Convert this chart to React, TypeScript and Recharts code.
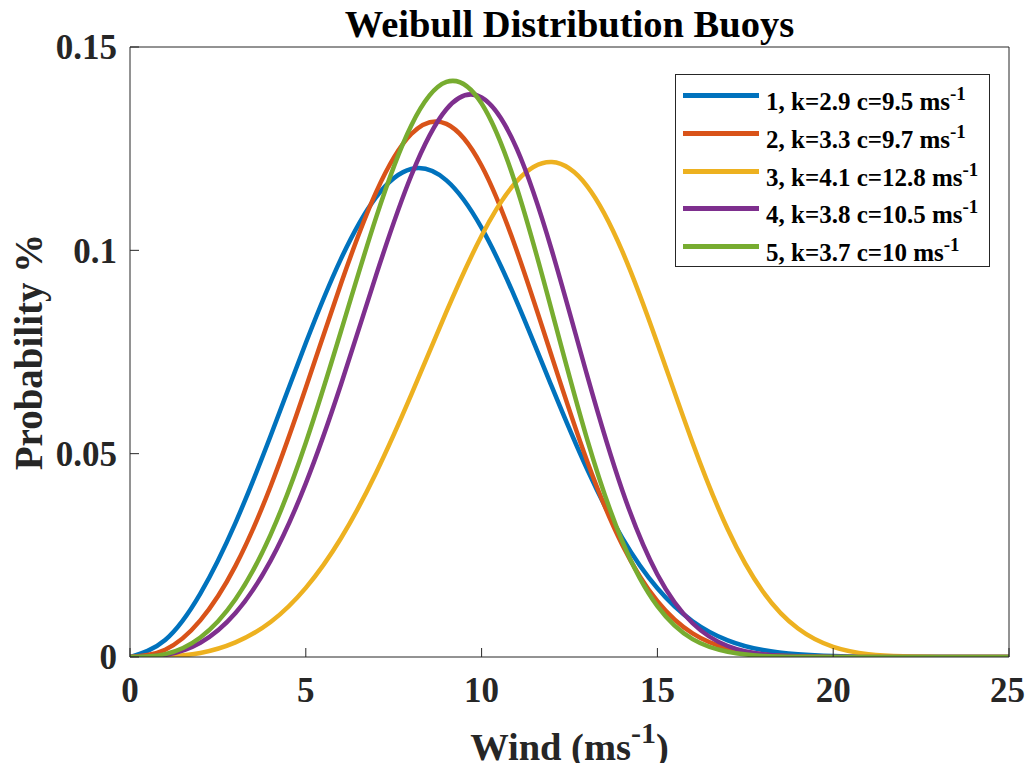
import { Label, Legend, Line, LineChart, XAxis, YAxis } from "recharts";

// wind speed samples (m/s) and the probability
const windSpeed = [0, 1, 2, 3, 4, 5, 6, 7, 8, 9, 10, 11, 12, 13, 14, 15, 16, 17, 18, 19, 20, 21, 22, 23, 24, 25];

const buoy1 = [0, 0.0042, 0.0156, 0.033, 0.0544, 0.0772, 0.0979, 0.1131, 0.12, 0.1172, 0.1055, 0.0874, 0.0664, 0.0462, 0.0293, 0.0169, 0.0088, 0.0041, 0.0017, 0.00065, 0.00022, 0.00006, 0.00002, 0, 0, 0];
const buoy2 = [0, 0.0018, 0.009, 0.0224, 0.042, 0.0662, 0.0918, 0.1143, 0.1286, 0.1311, 0.1208, 0.0999, 0.0738, 0.0482, 0.0276, 0.0137, 0.0058, 0.0021, 0.00064, 0.00016, 0.00003, 0, 0, 0, 0, 0];
const buoy3 = [0, 0.0001, 0.001, 0.0036, 0.0086, 0.017, 0.0292, 0.0453, 0.0645, 0.0849, 0.1036, 0.117, 0.1217, 0.1158, 0.0998, 0.0771, 0.0527, 0.0314, 0.0161, 0.007, 0.0025, 0.0007, 0.00017, 0.00003, 0, 0];
const buoy4 = [0, 0.0005, 0.0035, 0.0108, 0.0237, 0.0427, 0.067, 0.0939, 0.1184, 0.1347, 0.1376, 0.125, 0.0999, 0.0693, 0.041, 0.0203, 0.0083, 0.0027, 0.0007, 0.00014, 0.00002, 0, 0, 0, 0, 0];
const buoy5 = [0, 0.0007, 0.0048, 0.0142, 0.0301, 0.0527, 0.0801, 0.1081, 0.1307, 0.1414, 0.1361, 0.1154, 0.085, 0.0536, 0.0285, 0.0125, 0.0044, 0.0013, 0.00027, 0.00005, 0, 0, 0, 0, 0, 0];

const seriesLabels = [
  "1, k=2.9 c=9.5 ms",
  "2, k=3.3 c=9.7 ms",
  "3, k=4.1 c=12.8 ms",
  "4, k=3.8 c=10.5 ms",
  "5, k=3.7 c=10 ms",
];
const seriesColors = ["#0072BD", "#D95319", "#EDB120", "#7E2F8E", "#77AC30"];

const xTicks = [0, 5, 10, 15, 20, 25];
const yTicks = [0, 0.05, 0.1, 0.15];

const allSeries = [buoy1, buoy2, buoy3, buoy4, buoy5];

const chartData = windSpeed.map((w, i) => {
  const row: Record<string, number> = { wind: w };
  allSeries.forEach((s, j) => {
    row[`b${j + 1}`] = s[i];
  });
  return row;
});

const FONT = '"Liberation Serif", "Times New Roman", serif';
const AXIS = "#262626";

const tickStyle = { fill: AXIS, fontSize: 35, fontFamily: FONT, fontWeight: "bold" };

const PlotTitle = (props: any) => {
  const { viewBox } = props;
  return (
    <text
      x={viewBox.x + viewBox.width / 2}
      y={viewBox.y + viewBox.height - 10}
      textAnchor="middle"
      fontFamily={FONT}
      fontWeight="bold"
      fontSize={38.5}
      fill="#000"
    >
      Weibull Distribution Buoys
    </text>
  );
};

const XTitle = (props: any) => {
  const { viewBox } = props;
  return (
    <text
      x={viewBox.x + viewBox.width / 2}
      y={viewBox.y + 103}
      textAnchor="middle"
      fontFamily={FONT}
      fontWeight="bold"
      fontSize={38.5}
      fill={AXIS}
    >
      Wind (ms
      <tspan dy={-17} fontSize={30}>
        -1
      </tspan>
      <tspan dy={17}>)</tspan>
    </text>
  );
};

const YTitle = (props: any) => {
  const { viewBox } = props;
  const x = viewBox.x + 34;
  const y = viewBox.y + viewBox.height / 2;
  return (
    <text
      x={x}
      y={y}
      transform={`rotate(-90, ${x}, ${y})`}
      textAnchor="middle"
      fontFamily={FONT}
      fontWeight="bold"
      fontSize={39}
      fill={AXIS}
    >
      Probability %
    </text>
  );
};

const LegendBox = ({ payload }: any) => (
  <div
    style={{
      boxSizing: "border-box",
      width: 315,
      height: 193,
      border: "1px solid #262626",
      background: "#fff",
      paddingTop: 2,
      fontFamily: FONT,
      fontWeight: "bold",
      fontSize: 25,
      lineHeight: 1,
      color: "#000",
    }}
  >
    {(payload ?? []).map((entry: any) => (
      <div key={entry.value} style={{ display: "flex", alignItems: "center", height: 37.7 }}>
        <div style={{ marginLeft: 7, width: 76, height: 5, background: entry.color }} />
        <span style={{ marginLeft: 7, position: "relative", top: 6, whiteSpace: "nowrap" }}>
          {entry.value}
          <span style={{ fontSize: 19, position: "relative", top: -10 }}>-1</span>
        </span>
      </div>
    ))}
  </div>
);

export default function App() {
  return (
    // negative margins cancel the body margin vertically so the chart can use the full page height
    <div style={{ margin: "-8px 0" }}>
      <LineChart
        width={1017}
        height={771}
        data={chartData}
        margin={{ top: 46, right: 15, bottom: 0, left: 0 }}
      >
        <XAxis
          dataKey="wind"
          type="number"
          domain={[0, 25]}
          ticks={xTicks}
          allowDataOverflow
          height={114}
          stroke={AXIS}
          tickSize={-9}
          tickMargin={29}
          tick={tickStyle}
        >
          <Label content={XTitle} />
        </XAxis>
        <XAxis
          xAxisId="top"
          orientation="top"
          dataKey="wind"
          type="number"
          domain={[0, 25]}
          ticks={xTicks}
          allowDataOverflow
          height={1}
          stroke={AXIS}
          tickSize={-9}
          tick={false}
        >
          <Label content={PlotTitle} />
        </XAxis>
        <YAxis
          type="number"
          domain={[0, 0.15]}
          ticks={yTicks}
          allowDataOverflow
          width={122}
          stroke={AXIS}
          tickSize={-9}
          tickMargin={22}
          tick={tickStyle}
        >
          <Label content={YTitle} />
        </YAxis>
        <YAxis
          yAxisId="right"
          orientation="right"
          type="number"
          domain={[0, 0.15]}
          ticks={yTicks}
          allowDataOverflow
          width={1}
          stroke={AXIS}
          tickSize={-9}
          tick={false}
        />
        <Legend
          layout="vertical"
          align="center"
          verticalAlign="middle"
          content={LegendBox}
          wrapperStyle={{ top: 74, left: 667, width: 315, height: 193 }}
        />
        {seriesLabels.map((name, j) => (
          <Line
            key={name}
            name={name}
            dataKey={`b${j + 1}`}
            type="natural"
            stroke={seriesColors[j]}
            strokeWidth={4.5}
            dot={false}
            activeDot={false}
            isAnimationActive={false}
          />
        ))}
      </LineChart>
    </div>
  );
}
